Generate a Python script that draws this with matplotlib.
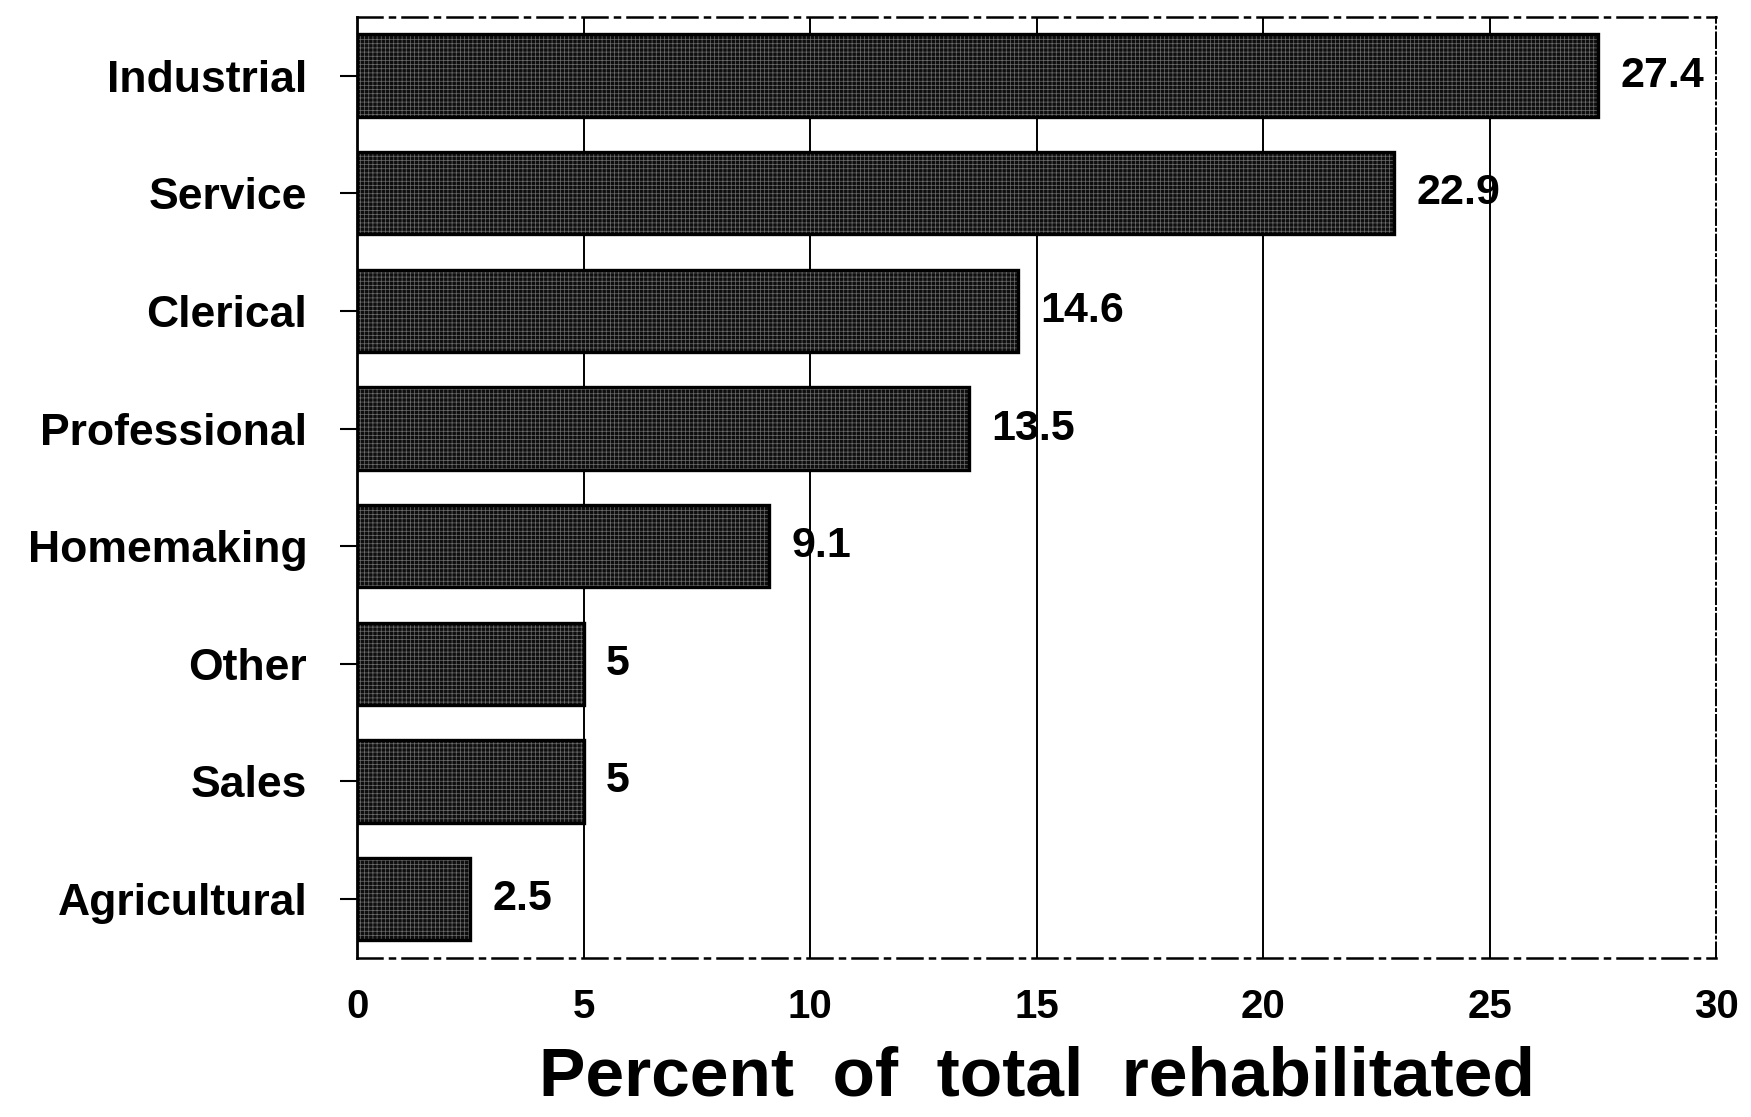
import matplotlib
matplotlib.use('Agg')
import matplotlib.pyplot as plt

# ─── Data ─────────────────────────────────────────────────────────────────────
categories = ['Agricultural', 'Sales', 'Other', 'Homemaking',
              'Professional', 'Clerical', 'Service', 'Industrial']
values = [2.5, 5, 5, 9.1, 13.5, 14.6, 22.9, 27.4]
value_labels = ['2.5', '5', '5', '9.1', '13.5', '14.6', '22.9', '27.4']
x_ticks = [0, 5, 10, 15, 20, 25, 30]

plt.rcParams['font.family'] = ['Liberation Sans', 'DejaVu Sans']
plt.rcParams['hatch.linewidth'] = 0.5

fig = plt.figure(figsize=(17.51, 11.17), dpi=100)
ax = fig.add_axes([0.204, 0.1424, 0.776, 0.8426])

ypos = list(range(len(categories)))

# textured dark bars: hatch in grey, then a black outline on top
ax.barh(ypos, values, height=0.70, color='#0e0e0e', edgecolor='#6e6e6e',
        hatch='++++', linewidth=0, zorder=3)
ax.barh(ypos, values, height=0.70, color='none', edgecolor='black',
        linewidth=2.4, zorder=4)

for y, v, lab in zip(ypos, values, value_labels):
    ax.annotate(lab, xy=(v, y), xytext=(16, 0), textcoords='offset points',
                ha='left', va='center', fontsize=31, fontweight='bold',
                color='black', zorder=5)

ax.set_xlim(0, 30)
ax.set_ylim(-0.5, 7.5)
ax.set_xticks(x_ticks)
ax.set_xticklabels([str(t) for t in x_ticks], fontsize=29, fontweight='bold')
ax.set_yticks(ypos)
ax.set_yticklabels(categories, fontsize=32, fontweight='bold')

ax.tick_params(axis='y', length=12, width=1.5, pad=24, direction='out')
ax.tick_params(axis='x', length=0, pad=22)

for t in x_ticks[1:-1]:
    ax.axvline(t, color='black', linewidth=1.4, zorder=1)

ax.spines['left'].set_linewidth(2.0)
ax.spines['top'].set_linewidth(1.8)
ax.spines['top'].set_linestyle((0, (10, 3, 2, 3)))
ax.spines['bottom'].set_linewidth(1.8)
ax.spines['bottom'].set_linestyle((0, (10, 3, 2, 3)))
ax.spines['right'].set_linewidth(1.4)
ax.spines['right'].set_linestyle((0, (8, 2, 1, 2)))

ax.set_xlabel('Percent  of  total  rehabilitated', fontsize=50,
              fontweight='bold', labelpad=14)

fig.savefig('out.png', dpi=100, facecolor='white')
